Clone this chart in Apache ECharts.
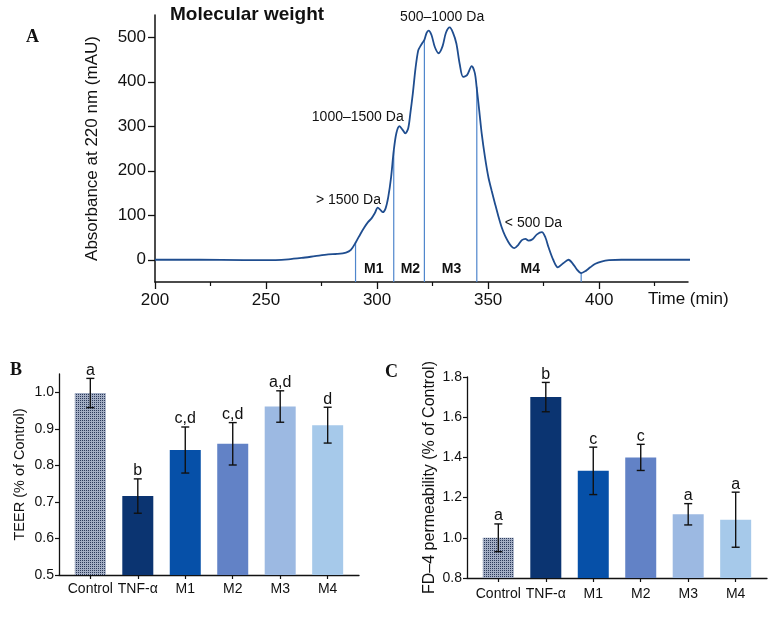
<!DOCTYPE html>
<html lang="en">
<head>
<meta charset="UTF-8">
<title>Molecular weight fractions</title>
<style>
    html, body { margin: 0; padding: 0; background: #fff; }
    #container { width: 780px; height: 618px; }
</style>
</head>
<body>
<div id="container"></div>
<script src="https://cdn.jsdelivr.net/npm/echarts@6/dist/echarts.min.js"></script>
<script>
    // panel A - chromatogram
    var timeMin = [200, 220, 240, 250, 260, 266, 272, 278, 282, 286, 288.2, 290.5, 292.5, 294.3, 296, 297.5, 299, 300.3,
        301.5, 302.6, 303.8, 305, 306.3, 307.5, 308.7, 310.1, 311.5, 312.7, 314, 315, 316.1, 317.3, 318.5, 319.5, 320.5,
        321.3, 322.3, 323.2, 324.5, 326, 327.7, 329.5, 331, 332.7, 334.2, 335.7, 337.2, 338.7, 340.5, 342.6, 344, 344.8,
        346, 347.1, 348.6, 350.1, 351.6, 353.1, 354.6, 356.1, 357.6, 359.1, 360.5, 361.8, 363.5, 365.2, 366.8, 368.2,
        370, 372, 374.2, 375.8, 377.2, 379.3, 381.4, 383.8, 386.2, 388, 390, 391.9, 394, 396, 398.3, 401, 404.4, 410,
        420, 430, 441];
    var absorbance = [0, 0, -1, -1, 1, 4, 8, 12, 13, 16, 22, 40, 58, 73, 85, 93, 105, 117,
        112, 107, 115, 140, 185, 245, 285, 300, 292, 284, 295, 330, 374, 430, 470, 480, 488,
        494, 510, 515, 505, 478, 464, 480, 510, 522, 510, 486, 440, 411, 415, 435, 420, 389,
        335, 284, 230, 186, 155, 126, 98, 73, 54, 40, 30, 26, 33, 44, 47, 43,
        46, 57, 62, 50, 28, 0, -17, -8, 0, -8, -22, -30, -25, -17, -9, -4, -1, 0,
        0, 0, 0];

    var fracX = [290.3, 307.5, 321.3, 344.9, 391.9];
    var fracTop = [40, 246, 494, 389, -30];
    var fracNames = ['M1', 'M2', 'M3', 'M4'];
    var fracLabelX = [298.5, 315, 333.5, 369];
    var fracLabelY = [-20, -20, -20, -20];

    var mwText = ['> 1500 Da', '1000–1500 Da', '500–1000 Da', '< 500 Da'];
    var mwX = [287.1, 291.3, 329.3, 370.4];
    var mwY = [135, 320, 545, 82];

    var timeLabels = [200, 250, 300, 350, 400];
    var timeMinorTicks = [225, 275, 325, 375, 425];
    var absLabels = [0, 100, 200, 300, 400, 500];

    // panels B and C
    var groups = ['Control', 'TNF-α', 'M1', 'M2', 'M3', 'M4'];
    var teerMean = [0.998, 0.716, 0.842, 0.859, 0.961, 0.910];
    var teerErr = [0.040, 0.047, 0.063, 0.058, 0.043, 0.049];
    var teerLetters = ['a', 'b', 'c,d', 'c,d', 'a,d', 'd'];
    var teerTicks = [0.5, 0.6, 0.7, 0.8, 0.9, 1.0];

    var fd4Mean = [1.0, 1.70, 1.333, 1.40, 1.117, 1.09];
    var fd4Err = [0.069, 0.073, 0.118, 0.065, 0.053, 0.137];
    var fd4Letters = ['a', 'b', 'c', 'c', 'a', 'a'];
    var fd4Ticks = [0.8, 1.0, 1.2, 1.4, 1.6, 1.8];

    var FONT = "'Liberation Sans', Arial, Helvetica, sans-serif";
    var SERIF = "'Liberation Serif', 'DejaVu Serif', serif";
    var INK = '#111';

    // fine dotted fill of the control bar
    function dotPattern() {
        var c = document.createElement('canvas');
        c.width = 2; c.height = 2;
        var ctx = c.getContext('2d');
        ctx.fillStyle = '#a3aec4';
        ctx.fillRect(0, 0, 2, 2);
        ctx.fillStyle = '#2c3a5a';
        ctx.fillRect(0, 0, 1, 1);
        return c;
    }
    var barColors = [{image: dotPattern(), repeat: 'repeat'}, '#0b3471', '#0650a8', '#6282c6', '#9cb9e2', '#a6c9ea'];

    function textStyle(txt, font, align, vAlign) {
        return {
            text: txt, font: font, fill: INK,
            align: align, textAlign: align,
            verticalAlign: vAlign, textVerticalAlign: vAlign
        };
    }

    function barAxisX(gridIndex, margin) {
        return {
            type: 'value', gridIndex: gridIndex, min: -0.66, max: 5.66,
            splitLine: {show: false},
            axisLine: {onZero: false, lineStyle: {color: INK, width: 1.3}},
            axisTick: {customValues: [0, 1, 2, 3, 4, 5], length: 4, lineStyle: {color: INK, width: 1.2}},
            axisLabel: {
                customValues: [0, 1, 2, 3, 4, 5], margin: margin,
                color: INK, fontSize: 14, fontFamily: FONT,
                formatter: function (v) { return groups[Math.round(v)]; }
            }
        };
    }

    function barAxisY(gridIndex, min, max, ticks, name, nameSize, nameGap) {
        return {
            type: 'value', gridIndex: gridIndex, min: min, max: max,
            name: name, nameLocation: 'middle', nameGap: nameGap,
            nameTextStyle: {color: INK, fontSize: nameSize, fontFamily: FONT},
            splitLine: {show: false},
            axisLine: {show: true, onZero: false, lineStyle: {color: INK, width: 1.3}},
            axisTick: {show: true, customValues: ticks, length: 4, lineStyle: {color: INK, width: 1.2}},
            axisLabel: {
                customValues: ticks, margin: 5, color: INK, fontSize: 14, fontFamily: FONT,
                formatter: function (v) { return v.toFixed(1); }
            }
        };
    }

    function barSeries(axisIdx, yIdx, means) {
        return {
            type: 'bar', xAxisIndex: axisIdx, yAxisIndex: yIdx, barWidth: 31,
            data: means.map(function (m, i) {
                return {value: [i, m], itemStyle: {color: barColors[i]}};
            })
        };
    }

    function errorSeries(axisIdx, yIdx, means, errs, letters) {
        return {
            type: 'custom', xAxisIndex: axisIdx, yAxisIndex: yIdx, z: 5,
            data: means.map(function (m, i) { return [i, m - errs[i], m + errs[i]]; }),
            renderItem: function (params, api) {
                var x = api.value(0);
                var top = api.coord([x, api.value(2)]);
                var bot = api.coord([x, api.value(1)]);
                var cap = 4;
                var st = {stroke: INK, lineWidth: 1.4};
                return {
                    type: 'group',
                    children: [
                        {type: 'line', shape: {x1: top[0], y1: top[1], x2: bot[0], y2: bot[1]}, style: st},
                        {type: 'line', shape: {x1: top[0] - cap, y1: top[1], x2: top[0] + cap, y2: top[1]}, style: st},
                        {type: 'line', shape: {x1: bot[0] - cap, y1: bot[1], x2: bot[0] + cap, y2: bot[1]}, style: st},
                        {type: 'text', x: top[0], y: top[1],
                            style: textStyle(letters[params.dataIndex], '16px ' + FONT, 'center', 'bottom')}
                    ]
                };
            }
        };
    }

    var chart = echarts.init(document.getElementById('container'));

    var option = {
        backgroundColor: '#fff',
        animation: false,
        grid: [
            {left: 155, top: 15, width: 533, height: 267},
            {left: 59, top: 374, width: 300, height: 201},
            {left: 467, top: 377, width: 300, height: 201}
        ],
        graphic: [
            {type: 'text', left: 26, top: 28, style: {text: 'A', font: 'bold 18px ' + SERIF, fill: INK}},
            {type: 'text', left: 10, top: 361, style: {text: 'B', font: 'bold 18px ' + SERIF, fill: INK}},
            {type: 'text', left: 385, top: 363, style: {text: 'C', font: 'bold 18px ' + SERIF, fill: INK}},
            {type: 'text', left: 170, top: 5, style: {text: 'Molecular weight', font: 'bold 19px ' + FONT, fill: INK}},
            {type: 'text', left: 648, top: 291, style: {text: 'Time (min)', font: '17px ' + FONT, fill: INK}}
        ],
        xAxis: [
            {
                type: 'value', gridIndex: 0, min: 200, max: 440, position: 'bottom',
                splitLine: {show: false},
                axisLine: {onZero: false, lineStyle: {color: INK, width: 1.5}},
                axisTick: {customValues: timeLabels, length: 7, lineStyle: {color: INK, width: 1.3}},
                axisLabel: {customValues: timeLabels, margin: 10, color: INK, fontSize: 17, fontFamily: FONT}
            },
            {
                type: 'value', gridIndex: 0, min: 200, max: 440, position: 'bottom',
                splitLine: {show: false},
                axisLine: {show: false, onZero: false},
                axisTick: {customValues: timeMinorTicks, length: 4, lineStyle: {color: INK, width: 1.2}},
                axisLabel: {show: false}
            },
            barAxisX(1, 7),
            barAxisX(2, 9)
        ],
        yAxis: [
            {
                type: 'value', gridIndex: 0, min: -50, max: 550,
                name: 'Absorbance at 220 nm (mAU)', nameLocation: 'middle', nameGap: 54,
                nameTextStyle: {color: INK, fontSize: 17, fontFamily: FONT},
                splitLine: {show: false},
                axisLine: {show: true, onZero: false, lineStyle: {color: INK, width: 1.5}},
                axisTick: {show: true, customValues: absLabels, length: 7, lineStyle: {color: INK, width: 1.3}},
                axisLabel: {customValues: absLabels, margin: 9, color: INK, fontSize: 17, fontFamily: FONT}
            },
            barAxisY(1, 0.5, 1.05, teerTicks, 'TEER (% of Control)', 14.5, 32),
            barAxisY(2, 0.8, 1.8, fd4Ticks, 'FD–4 permeability (% of Control)', 16, 29)
        ],
        series: [
            {
                type: 'line', xAxisIndex: 0, yAxisIndex: 0,
                data: timeMin.map(function (t, i) { return [t, absorbance[i]]; }),
                showSymbol: false, smooth: 0.3,
                lineStyle: {color: '#1f4d8f', width: 1.8}
            },
            {
                // fraction cut lines
                type: 'custom', xAxisIndex: 0, yAxisIndex: 0,
                data: fracX.map(function (x, i) { return [x, fracTop[i]]; }),
                renderItem: function (params, api) {
                    var p1 = api.coord([api.value(0), -50]);
                    var p2 = api.coord([api.value(0), api.value(1)]);
                    return {type: 'line', shape: {x1: p1[0], y1: p1[1], x2: p2[0], y2: p2[1]},
                        style: {stroke: '#4f86cc', lineWidth: 1.2}};
                }
            },
            {
                type: 'custom', xAxisIndex: 0, yAxisIndex: 0,
                data: fracLabelX.map(function (x, i) { return [x, fracLabelY[i]]; }),
                renderItem: function (params, api) {
                    var p = api.coord([api.value(0), api.value(1)]);
                    return {type: 'text', x: p[0], y: p[1],
                        style: textStyle(fracNames[params.dataIndex], 'bold 14px ' + FONT, 'center', 'middle')};
                }
            },
            {
                type: 'custom', xAxisIndex: 0, yAxisIndex: 0,
                data: mwX.map(function (x, i) { return [x, mwY[i]]; }),
                renderItem: function (params, api) {
                    var p = api.coord([api.value(0), api.value(1)]);
                    return {type: 'text', x: p[0], y: p[1],
                        style: textStyle(mwText[params.dataIndex], '14px ' + FONT, 'center', 'middle')};
                }
            },
            barSeries(2, 1, teerMean),
            errorSeries(2, 1, teerMean, teerErr, teerLetters),
            barSeries(3, 2, fd4Mean),
            errorSeries(3, 2, fd4Mean, fd4Err, fd4Letters)
        ]
    };

    chart.setOption(option);
</script>
</body>
</html>
